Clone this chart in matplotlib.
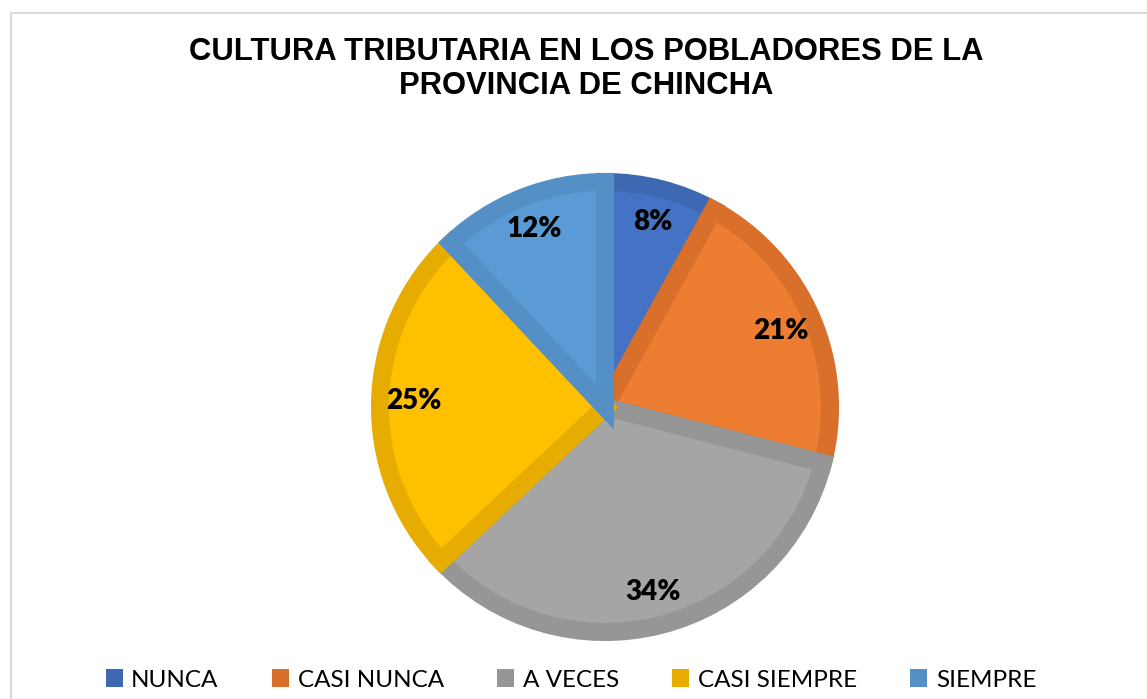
import matplotlib.pyplot as plt
from matplotlib.patches import Patch, Rectangle

# datos del grafico
categorias = ['NUNCA', 'CASI NUNCA', 'A VECES', 'CASI SIEMPRE', 'SIEMPRE']
porcentajes = [8, 21, 34, 25, 12]
colores = ['#4472C4', '#ED7D31', '#A5A5A5', '#FFC000', '#5B9BD5']
bordes = ['#3F68B3', '#D86F2A', '#969696', '#E6AD00', '#5490C6']
titulo = ['CULTURA TRIBUTARIA EN LOS POBLADORES DE LA', 'PROVINCIA DE CHINCHA']

W, H = 1147, 699
fig = plt.figure(figsize=(W / 100, H / 100), dpi=100)

# marco gris claro
fig.patches.append(Rectangle((11 / W, -0.1), 1.2, 1.1 - 13 / H, transform=fig.transFigure,
                             fill=False, edgecolor='#D9D9D9', linewidth=1.5))

cx, cy, r = 605, 407, 225
ax = fig.add_axes([(cx - r) / W, (H - cy - r) / H, 2 * r / W, 2 * r / H])
wedges, texts, autotexts = ax.pie(porcentajes, colors=colores, startangle=90, counterclock=False,
                                  radius=1, autopct='%1.0f%%', pctdistance=0.85,
                                  textprops=dict(fontsize=20, fontweight='heavy', family='Lato',
                                                 color='black'),
                                  wedgeprops=dict(linewidth=13))
# borde interior mas oscuro en cada sector
for w, b in zip(wedges, bordes):
    w.set_edgecolor(b)
    w.set_clip_path(w)
ax.set_xlim(-1, 1)
ax.set_ylim(-1, 1)
ax.axis('off')

# titulo en dos lineas
for linea, ybase in zip(titulo, (60, 94)):
    fig.text(586 / W, 1 - ybase / H, linea, ha='center', va='baseline', fontsize=22.3,
             fontweight='bold', family='Liberation Sans')

handles = [Patch(facecolor=b, edgecolor='none') for b in bordes]
fig.legend(handles, categorias, loc='center', bbox_to_anchor=(571 / W, 1 - 680 / H), ncol=5,
           frameon=False, prop=dict(family='Lato', size=17.5), handlelength=0.7,
           handleheight=0.7, handletextpad=0.35, columnspacing=2.2)

plt.savefig('out.png', dpi=100)
